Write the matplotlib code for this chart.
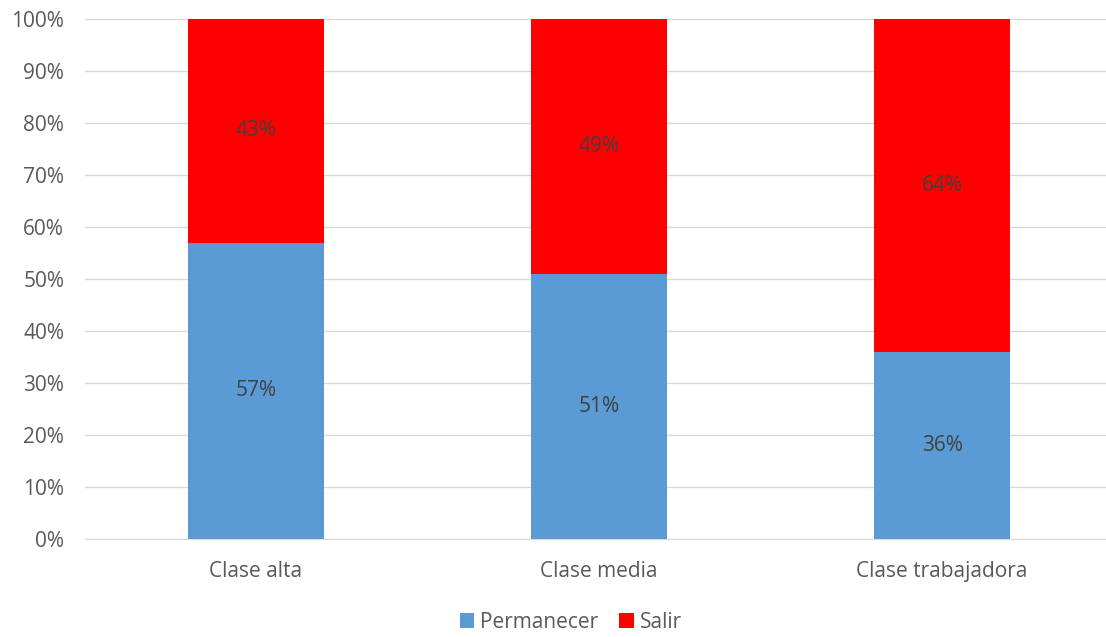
import matplotlib
matplotlib.use("Agg")
import matplotlib.pyplot as plt
import numpy as np

categories = ["Clase alta", "Clase media", "Clase trabajadora"]
permanecer = [57, 51, 36]
salir = [43, 49, 64]
yticks = [0, 10, 20, 30, 40, 50, 60, 70, 80, 90, 100]

plt.rcParams['font.family'] = ['Open Sans', 'DejaVu Sans']
FS = 15

fig = plt.figure(figsize=(11.06, 6.37), dpi=100)
ax = fig.add_axes([85/1106, 1-539/637, 1021/1106, 520/637])

x = np.arange(len(categories))
w = 0.397
b1 = ax.bar(x, permanecer, w, color="#5B9BD5", label="Permanecer", zorder=3)
b2 = ax.bar(x, salir, w, bottom=permanecer, color="#FF0000", label="Salir", zorder=3)

for i in range(len(categories)):
    ax.text(x[i], permanecer[i]/2, f"{permanecer[i]}%", ha="center", va="center",
            fontsize=FS, color="#404040", zorder=4)
    ax.text(x[i], permanecer[i] + salir[i]/2, f"{salir[i]}%", ha="center", va="center",
            fontsize=FS, color="#404040", zorder=4)

ax.set_xlim(-0.4985, 2.478)
ax.set_ylim(0, 100)
ax.set_yticks(yticks)
ax.set_yticklabels([f"{v}%" for v in yticks])
ax.set_xticks(x)
ax.set_xticklabels(categories)
ax.tick_params(axis="both", length=0, labelsize=FS, colors="#595959")
ax.tick_params(axis="x", pad=16)
ax.tick_params(axis="y", pad=15)
ax.grid(axis="y", color="#D9D9D9", linewidth=1, zorder=0)
for s in ["top", "right", "left"]:
    ax.spines[s].set_visible(False)
ax.spines["bottom"].set_color("#D9D9D9")

fig.legend(handles=[b1, b2], loc="center", bbox_to_anchor=(571/1106, 1-622/637), ncol=2,
           frameon=False, fontsize=FS, handlelength=0.7, handleheight=0.7,
           columnspacing=1.0, handletextpad=0.3, labelcolor="#595959")

fig.savefig("out.png", dpi=100)
